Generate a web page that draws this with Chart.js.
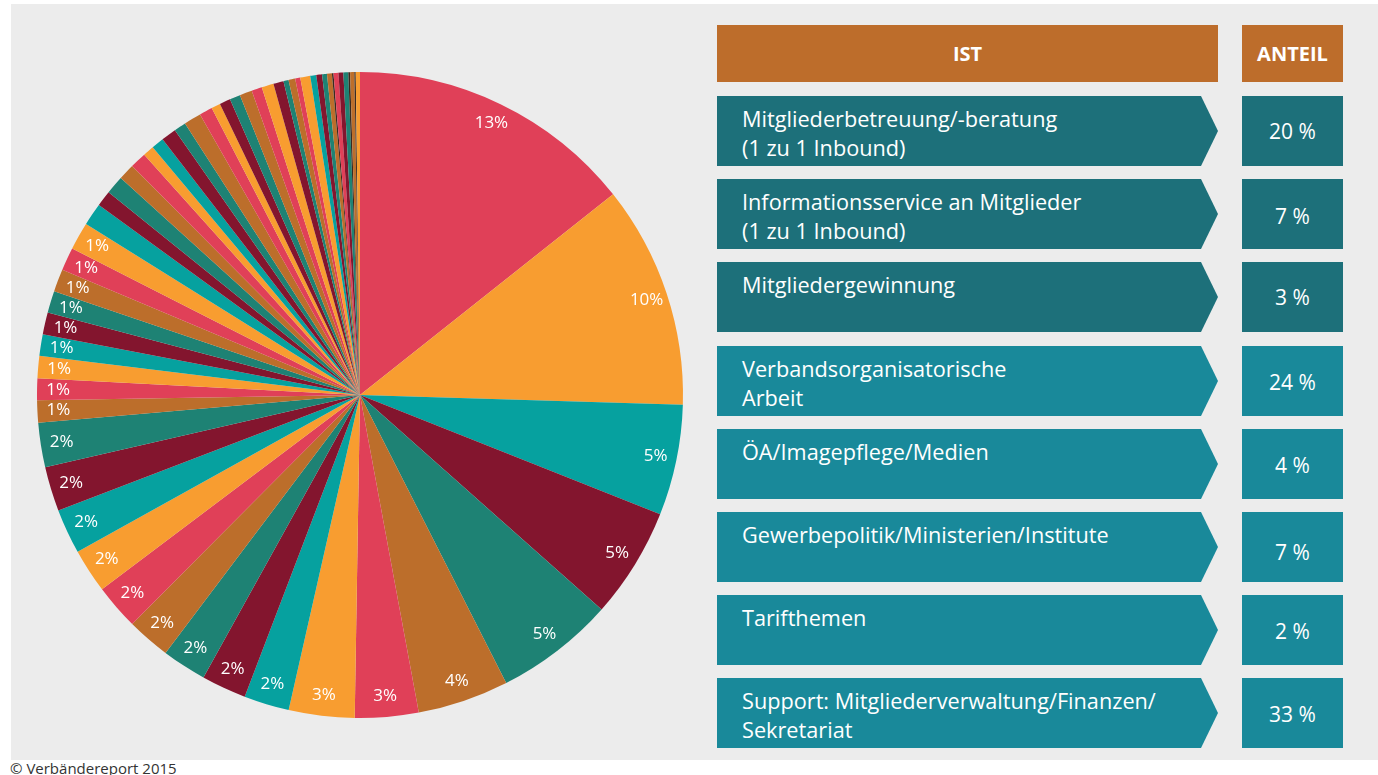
<!DOCTYPE html>
<html>
<head>
<meta charset="utf-8">
<script src="https://cdn.jsdelivr.net/npm/chart.js@4.4.0/dist/chart.umd.min.js"></script>
<style>
  html, body { margin: 0; padding: 0; background: #fff; }
  body { width: 1378px; height: 775px; position: relative; overflow: hidden; font-family: 'Open Sans', sans-serif; }
  #panel { position: absolute; left: 11px; top: 4px; width: 1367px; height: 756px; background: #ececec; }
  #pieBox { position: absolute; left: 27px; top: 62px; width: 666px; height: 666px; }
  .hdr { position: absolute; top: 25px; height: 57px; background: #bd6d2b; color: #fff; font-weight: 700; font-size: 20px;
         display: flex; align-items: center; justify-content: center; }
  .row { position: absolute; left: 717px; width: 501px; height: 70px; box-sizing: border-box; padding: 8px 0 0 25px;
         color: #fff; font-size: 21.7px; line-height: 29px; white-space: nowrap;
         clip-path: polygon(0 0, 484px 0, 100% 50%, 484px 100%, 0 100%); }
  .val { position: absolute; left: 1242px; width: 101px; height: 70px; box-sizing: border-box; color: #fff; font-size: 21px;
         display: flex; align-items: center; justify-content: center; }
  #credit { position: absolute; left: 10px; top: 758px; font-size: 15px; color: #333; }
</style>
</head>
<body>
<div id="panel"></div>
<div id="pieBox"><canvas id="pieChart" width="666" height="666"></canvas></div>
<div id="table"></div>
<div id="credit">© Verbändereport 2015</div>

<script>
// pie slices, clockwise from 12 o'clock
const sliceValues = [
  12.91, 10.04, 5.00, 4.98, 5.38, 4.11, 2.86, 2.96,
  2.04, 2.02, 2.01, 1.96, 2.04, 1.99, 2.03, 2.00, 2.00,
  1.00, 0.98, 1.00, 0.97, 0.99, 0.99, 1.02, 1.04, 1.25,
  1.02, 0.71, 0.83, 0.73, 0.74, 0.50, 0.56, 0.68, 0.54, 0.78,
  0.59, 0.41, 0.49, 0.48, 0.56, 0.47, 0.54, 0.46, 0.23, 0.30,
  0.23, 0.45, 0.27, 0.26, 0.22, 0.22, 0.07, 0.22, 0.22, 0.22,
  0.08, 0.19, 0.06, 0.19
];

// percent labels printed on the slices ('' = no label)
const sliceLabels = [
  '13%', '10%', '5%', '5%', '5%', '4%', '3%', '3%',
  '2%', '2%', '2%', '2%', '2%', '2%', '2%', '2%', '2%',
  '1%', '1%', '1%', '1%', '1%', '1%', '1%', '1%', '1%'
];

// table on the right
const istCategories = [
  ['Mitgliederbetreuung/-beratung', '(1 zu 1 Inbound)'],
  ['Informationsservice an Mitglieder', '(1 zu 1 Inbound)'],
  ['Mitgliedergewinnung'],
  ['Verbandsorganisatorische', 'Arbeit'],
  ['ÖA/Imagepflege/Medien'],
  ['Gewerbepolitik/Ministerien/Institute'],
  ['Tarifthemen'],
  ['Support: Mitgliederverwaltung/Finanzen/', 'Sekretariat']
];
const anteilValues = [20, 7, 3, 24, 4, 7, 2, 33];

const C = {
  red: '#e04058', orange: '#f89d30', teal: '#06a19f', darkred: '#83152e',
  green: '#1e8274', brown: '#bc6e2b', dark: '#3a2a20'
};
const colorOrder = [
  'red', 'orange', 'teal', 'darkred', 'green', 'brown', 'red', 'orange',
  'teal', 'darkred', 'green', 'brown', 'red', 'orange', 'teal', 'darkred', 'green',
  'brown', 'red', 'orange', 'teal', 'darkred', 'green', 'brown', 'red', 'orange',
  'teal', 'darkred', 'green', 'brown', 'red', 'orange', 'teal', 'darkred', 'green', 'brown',
  'red', 'orange', 'darkred', 'green', 'brown', 'red', 'orange', 'darkred', 'green', 'brown',
  'red', 'orange', 'teal', 'darkred', 'green', 'brown', 'dark', 'red', 'darkred', 'green',
  'dark', 'brown', 'dark', 'orange'
];
// small vertical nudge of the value text in each box (px)
const valueNudge = [0, 3, 0, 2, 1, 10, 2, 2];

// table
const table = document.getElementById('table');
table.innerHTML =
  '<div class="hdr" style="left:717px;width:501px">IST</div>' +
  '<div class="hdr" style="left:1242px;width:101px">ANTEIL</div>';

istCategories.forEach((lines, i) => {
  const top = 96 + Math.round(i * 83.2);
  const bg = i < 3 ? '#1d707a' : '#19899a';
  const row = document.createElement('div');
  row.className = 'row';
  row.style.top = top + 'px';
  row.style.background = bg;
  row.innerHTML = lines.join('<br>');
  table.appendChild(row);

  const val = document.createElement('div');
  val.className = 'val';
  val.style.top = top + 'px';
  val.style.background = bg;
  val.style.paddingTop = valueNudge[i] + 'px';
  val.textContent = anteilValues[i] + ' %';
  table.appendChild(val);
});

const pieLabelPlugin = {
  id: 'pieLabels',
  afterDatasetsDraw(chart) {
    const { ctx } = chart;
    const meta = chart.getDatasetMeta(0);
    ctx.save();
    ctx.fillStyle = '#fff';
    ctx.font = '17px "Open Sans"';
    ctx.textAlign = 'center';
    ctx.textBaseline = 'middle';
    meta.data.forEach((arc, i) => {
      const text = sliceLabels[i];
      if (!text) return;
      const mid = (arc.startAngle + arc.endAngle) / 2;
      const r = arc.outerRadius * 0.935;
      ctx.fillText(text, arc.x + Math.cos(mid) * r, arc.y + Math.sin(mid) * r);
    });
    ctx.restore();
  }
};

new Chart(document.getElementById('pieChart'), {
  type: 'pie',
  data: {
    labels: sliceValues.map((v, i) => 'Slice ' + (i + 1)),
    datasets: [{
      data: sliceValues,
      backgroundColor: colorOrder.map(k => C[k]),
      borderWidth: 0
    }]
  },
  options: {
    responsive: false,
    animation: false,
    layout: { padding: 10 },
    plugins: {
      legend: { display: false },
      tooltip: { enabled: false }
    }
  },
  plugins: [pieLabelPlugin]
});
</script>
</body>
</html>
